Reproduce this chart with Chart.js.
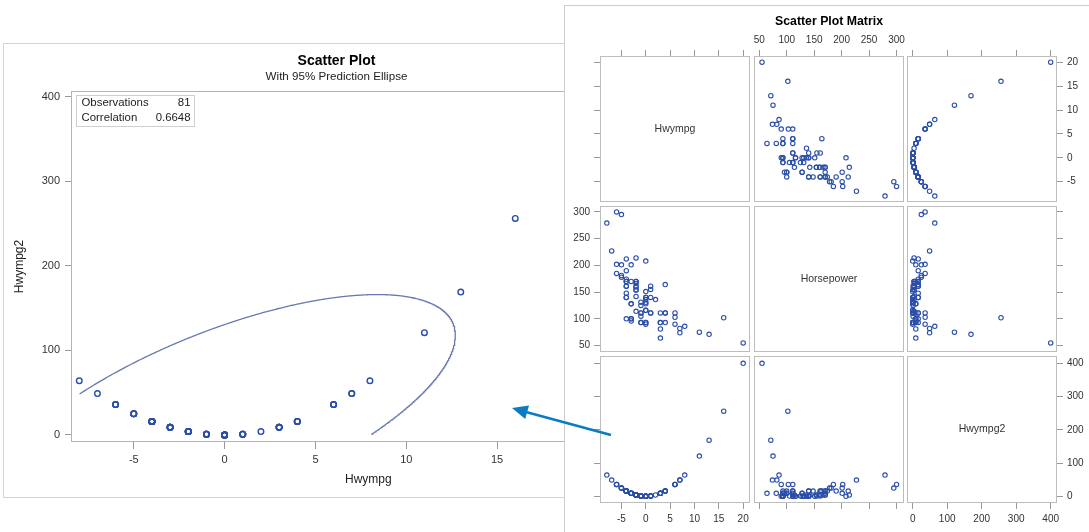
<!DOCTYPE html>
<html>
<head>
<meta charset="utf-8">
<title>Scatter Plot</title>
<script src="https://cdn.jsdelivr.net/npm/chart.js@4.4.1/dist/chart.umd.min.js"></script>
<style>
  html, body { margin:0; padding:0; width:1089px; height:532px; overflow:hidden; background:#fff; }
  .abs { position:absolute; }
  #leftPanel { left:3px; top:43px; width:760px; height:455px; border:1px solid #d4d4d4; box-sizing:border-box; background:#fff; }
  #rightPanel { left:564px; top:5px; width:600px; height:600px; border-left:1px solid #cdcdcd; border-top:1px solid #cdcdcd; background:#fff; }
</style>
</head>
<body>
<div id="leftPanel" class="abs"></div>
<canvas id="leftChart" class="abs" width="667" height="455" style="left:3px;top:43px"></canvas>
<div id="rightPanel" class="abs"></div>
<div id="matrix"></div>
<svg id="arrow" class="abs" width="1089" height="532" style="left:0;top:0;pointer-events:none">
  <line x1="611" y1="435" x2="526" y2="412" stroke="#0b7cc1" stroke-width="2.6"/>
  <polygon points="512,408 529,405.4 525.2,419" fill="#0b7cc1"/>
</svg>
<script>
// ---------------- data (81 observations) ----------------
const hwympg = [
  20, 16, 13, 11, 8, 7, 7, 6, 6, 6,
  4, 4, 4, 4, 3, 3, 3, 3, 3, 2,
  1, 1, 1, 1, 1, 0, 0, 0, 0, 0,
  0, 0, 0, 0, 0, 0, 0, -1, -1, -1,
  -1, -1, -1, -1, -2, -2, -2, -2, -2, -2,
  -2, -2, -2, -2, -3, -3, -3, -3, -3, -3,
  -3, -4, -4, -4, -4, -4, -4, -4, -4, -4,
  -4, -4, -5, -5, -5, -5, -6, -6, -6, -7,
  -8
];
const horsepower = [
  55, 102, 71, 75, 86, 74, 82, 90, 103, 111,
  93, 111, 164, 111, 64, 81, 93, 111, 93, 136,
  111, 140, 155, 161, 111, 90, 93, 116, 128, 131,
  136, 140, 151, 208, 140, 116, 93, 93, 105, 111,
  125, 131, 111, 93, 114, 142, 154, 160, 166, 170,
  214, 170, 160, 154, 96, 100, 128, 170, 201, 100,
  128, 100, 140, 148, 161, 170, 174, 190, 212, 170,
  161, 140, 178, 181, 201, 295, 185, 202, 300, 227,
  279
];
const hwympg2 = [
  400, 256, 169, 121, 64, 49, 49, 36, 36, 36,
  16, 16, 16, 16, 9, 9, 9, 9, 9, 4,
  1, 1, 1, 1, 1, 0, 0, 0, 0, 0,
  0, 0, 0, 0, 0, 0, 0, 1, 1, 1,
  1, 1, 1, 1, 4, 4, 4, 4, 4, 4,
  4, 4, 4, 4, 9, 9, 9, 9, 9, 9,
  9, 16, 16, 16, 16, 16, 16, 16, 16, 16,
  16, 16, 25, 25, 25, 25, 36, 36, 36, 49,
  64
];
const varNames = ['Hwympg', 'Horsepower', 'Hwympg2'];
const correlationText = '0.6648';
// 95% prediction ellipse (centre, semi-axes, correlation)
const ellipseCenter = [-0.13, 22];
const ellipseSemi = [12.83, 144];
const ellipseRho = 0.6648;

// ---------------- styling ----------------
const FONT = '"Liberation Sans", Arial, Helvetica, sans-serif';
const MARK = '#2b4ea8';
const TXT = '#333333';
const TICK = '#9a9a9a';
Chart.defaults.font.family = FONT;

// ---------------- left chart ----------------
function ellipsePoints(xMin, yMin) {
  const pts = [];
  const s = Math.sqrt(1 - ellipseRho * ellipseRho);
  const N = 1440;
  for (let k = 0; k <= N; k++) {
    const t = -Math.PI / 2 + 2 * Math.PI * k / N;
    const x = ellipseCenter[0] + ellipseSemi[0] * Math.cos(t);
    const y = ellipseCenter[1] + ellipseSemi[1] * (ellipseRho * Math.cos(t) + s * Math.sin(t));
    if (x >= xMin && y >= yMin) pts.push({x, y});
  }
  return pts;
}
const obsPts = hwympg.map((v, i) => ({x: v, y: hwympg2[i]}));
const ellPts = ellipsePoints(Math.min(...hwympg), Math.min(...hwympg2));

const leftDecor = {
  id: 'leftDecor',
  afterDraw(chart) {
    const {ctx, chartArea: a} = chart;
    ctx.save();
    ctx.strokeStyle = '#b4b4b4';
    ctx.lineWidth = 1;
    ctx.strokeRect(Math.round(a.left) - 0.5, Math.round(a.top) + 0.5, Math.round(a.right - a.left) , Math.round(a.bottom - a.top) - 1);
    // statistics inset
    const bx = Math.round(a.left) + 4.5, by = Math.round(a.top) + 4.5, bw = 118, bh = 31;
    ctx.fillStyle = '#fff';
    ctx.fillRect(bx, by, bw, bh);
    ctx.strokeStyle = '#cfcfcf';
    ctx.strokeRect(bx, by, bw, bh);
    ctx.fillStyle = '#222';
    ctx.font = '11.4px ' + FONT;
    ctx.textBaseline = 'middle';
    ctx.textAlign = 'left';
    ctx.fillText('Observations', bx + 5, by + 7.5);
    ctx.fillText('Correlation', bx + 5, by + 22);
    ctx.textAlign = 'right';
    ctx.fillText(String(hwympg.length), bx + bw - 4, by + 7.5);
    ctx.fillText(correlationText, bx + bw - 4, by + 22);
    ctx.restore();
  }
};

new Chart(document.getElementById('leftChart'), {
  type: 'scatter',
  data: {
    datasets: [
      { label: 'Prediction Ellipse', data: ellPts, showLine: true, pointRadius: 0, borderColor: '#6a78b0', borderWidth: 1.3, fill: false, order: 2 },
      { label: 'Observations', data: obsPts, pointRadius: 2.8, pointBorderWidth: 1.4, borderColor: MARK, pointBorderColor: MARK, backgroundColor: 'rgba(0,0,0,0)', pointBackgroundColor: 'rgba(0,0,0,0)', order: 1 }
    ]
  },
  options: {
    responsive: false, animation: false, devicePixelRatio: 1,
    layout: { padding: { left: 0, top: 0, right: 0, bottom: 6 } },
    plugins: {
      legend: { display: false }, tooltip: { enabled: false },
      title: { display: true, text: 'Scatter Plot', color: '#000', font: { size: 14, weight: 'bold', lineHeight: 1.2 }, padding: { top: 10, bottom: 0 } },
      subtitle: { display: true, text: 'With 95% Prediction Ellipse', color: '#222', font: { size: 11.6, lineHeight: 1.2 }, padding: { top: 0, bottom: 7.28 } }
    },
    scales: {
      x: {
        type: 'linear', position: 'bottom', min: -8.4, max: 24.22,
        afterFit: s => { s.height = 50; },
        ticks: { stepSize: 5, includeBounds: false, padding: 4, color: TXT, font: { size: 11 }, maxRotation: 0, autoSkip: false },
        grid: { drawOnChartArea: false, tickLength: 7, color: TICK },
        border: { display: false },
        title: { display: true, text: 'Hwympg', color: '#222', font: { size: 12, lineHeight: 1.2 }, padding: { top: 0, bottom: 4.8 } }
      },
      y: {
        type: 'linear', position: 'left', min: -8.3, max: 406.7,
        afterFit: s => { s.width = 69; },
        ticks: { stepSize: 100, includeBounds: false, padding: 5, color: TXT, font: { size: 11 } },
        grid: { drawOnChartArea: false, tickLength: 7, color: TICK },
        border: { display: false },
        title: { display: true, text: 'Hwympg2', color: '#222', font: { size: 12, lineHeight: 1.2 }, padding: { top: 9.8, bottom: 0 } }
      }
    }
  },
  plugins: [leftDecor]
});

// ---------------- scatter plot matrix ----------------
const varData = [hwympg, horsepower, hwympg2];
const tickSteps = [5, 50, 100];
const colRanges = [[-9.4, 21.4], [40.4, 313.6], [-16.5, 418.3]];
const rowRanges = [[-9.25, 21.3], [38, 311], [-20, 422]];
const colLeft = [600, 754, 907], colW = 150;
const rowTop = [56, 206, 356], rowH = [146, 146, 147];
const M = 40, AX = 24, AY = 32;

function cellDecor(label) {
  return {
    id: 'cellDecor',
    afterDraw(chart) {
      const {ctx, chartArea: a} = chart;
      ctx.save();
      ctx.strokeStyle = '#bdbdbd';
      ctx.lineWidth = 1;
      ctx.strokeRect(Math.round(a.left) + 0.5, Math.round(a.top) + 0.5, Math.round(a.right - a.left) - 1, Math.round(a.bottom - a.top) - 1);
      if (label) {
        ctx.fillStyle = TXT;
        ctx.font = '10.5px ' + FONT;
        ctx.textAlign = 'center';
        ctx.textBaseline = 'middle';
        ctx.fillText(label, (a.left + a.right) / 2, (a.top + a.bottom) / 2);
      }
      ctx.restore();
    }
  };
}

const holder = document.getElementById('matrix');
for (let i = 0; i < 3; i++) {
  for (let j = 0; j < 3; j++) {
    const hasTitle = (i === 0 && j === 1);
    const mt = hasTitle ? rowTop[0] : M;
    const cv = document.createElement('canvas');
    cv.width = colW + 2 * M;
    cv.height = rowH[i] + mt + M;
    cv.className = 'abs';
    cv.style.left = (colLeft[j] - M) + 'px';
    cv.style.top = (rowTop[i] - mt) + 'px';
    holder.appendChild(cv);

    const showX = i !== 1, showY = j !== 1;
    const pad = {
      top: hasTitle ? 0 : (i === 0 ? M - AX : M),
      bottom: i === 2 ? M - AX : M,
      left: j === 0 ? M - AY : M,
      right: j === 2 ? M - AY : M
    };
    const diag = i === j;
    const pts = diag ? [] : varData[j].map((v, k) => ({x: v, y: varData[i][k]}));

    new Chart(cv, {
      type: 'scatter',
      data: { datasets: [{ data: pts, pointRadius: 2.2, pointBorderWidth: 1.1, borderColor: MARK, pointBorderColor: MARK, backgroundColor: 'rgba(0,0,0,0)', pointBackgroundColor: 'rgba(0,0,0,0)' }] },
      options: {
        responsive: false, animation: false, devicePixelRatio: 1,
        layout: { padding: pad },
        plugins: {
          legend: { display: false }, tooltip: { enabled: false },
          title: hasTitle ? { display: true, text: 'Scatter Plot Matrix', color: '#000', font: { size: 12.3, weight: 'bold', lineHeight: 1.2 }, padding: { top: 14.3, bottom: 2.94 } } : { display: false }
        },
        scales: {
          x: {
            type: 'linear', display: showX, position: i === 0 ? 'top' : 'bottom',
            min: colRanges[j][0], max: colRanges[j][1],
            afterFit: s => { if (showX) s.height = AX; },
            ticks: { display: showX && ((i === 0 && j === 1) || (i === 2 && j !== 1)), stepSize: tickSteps[j], includeBounds: false, padding: 4, color: TXT, font: { size: 10, lineHeight: 1.2 }, maxRotation: 0, autoSkip: false },
            grid: { drawOnChartArea: false, drawTicks: true, tickLength: 6, color: TICK },
            border: { display: false }
          },
          y: {
            type: 'linear', display: showY, position: j === 0 ? 'left' : 'right',
            min: rowRanges[i][0], max: rowRanges[i][1],
            afterFit: s => { if (showY) s.width = AY; },
            ticks: { display: showY && ((j === 0 && i === 1) || (j === 2 && i !== 1)), stepSize: tickSteps[i], includeBounds: false, padding: 4, color: TXT, font: { size: 10, lineHeight: 1.2 }, autoSkip: false },
            grid: { drawOnChartArea: false, drawTicks: true, tickLength: 6, color: TICK },
            border: { display: false }
          }
        }
      },
      plugins: [cellDecor(diag ? varNames[i] : null)]
    });
  }
}
</script>
</body>
</html>
